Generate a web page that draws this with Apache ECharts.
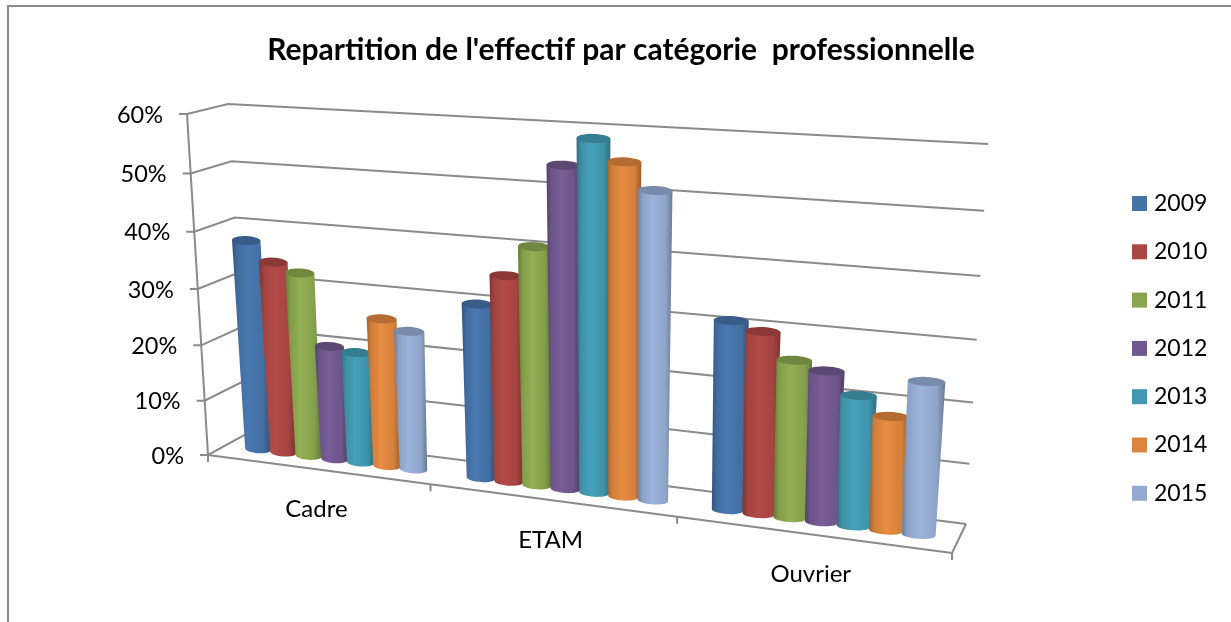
<!DOCTYPE html>
<html>
<head>
<meta charset="utf-8">
<title>Repartition de l'effectif</title>
<script src="https://cdn.jsdelivr.net/npm/echarts@6/dist/echarts.min.js"></script>
<style>
html, body { margin: 0; padding: 0; background: #fff; }
#main { width: 1231px; height: 622px; }
</style>
</head>
<body>
<div id="main"></div>
<script>
var categories = ['Cadre', 'ETAM', 'Ouvrier'];
var years = ['2009', '2010', '2011', '2012', '2013', '2014', '2015'];
var yTicks = [0, 10, 20, 30, 40, 50, 60];

var v2009 = [37.8, 30.3, 31.4];
var v2010 = [34.4, 35.5, 30.1];
var v2011 = [32.9, 40.7, 26];
var v2012 = [20.4, 54.2, 24.8];
var v2013 = [19.8, 58.7, 21.4];
var v2014 = [26.2, 55.3, 18.6];
var v2015 = [24.5, 51.1, 24.7];
var values = [v2009, v2010, v2011, v2012, v2013, v2014, v2015];

var colors = ['#4572A7', '#AA4643', '#89A54E', '#71588F', '#4198AF', '#DB843D', '#93A9CF'];
var lineColor = '#8a8a8a';
var font = 'Lato, "Noto Sans", sans-serif';

// the 3D box: corners of the front and back faces on screen
function quad(p00, p10, p11, p01) {
    var dx1 = p10[0] - p11[0], dx2 = p01[0] - p11[0], sx = p00[0] - p10[0] + p11[0] - p01[0];
    var dy1 = p10[1] - p11[1], dy2 = p01[1] - p11[1], sy = p00[1] - p10[1] + p11[1] - p01[1];
    var det = dx1 * dy2 - dx2 * dy1;
    var g = (sx * dy2 - dx2 * sy) / det;
    var h = (dx1 * sy - sx * dy1) / det;
    var a = p10[0] - p00[0] + g * p10[0], b = p01[0] - p00[0] + h * p01[0];
    var d = p10[1] - p00[1] + g * p10[1], e = p01[1] - p00[1] + h * p01[1];
    return function (u, v) {
        var w = g * u + h * v + 1;
        return [(a * u + b * v + p00[0]) / w, (d * u + e * v + p00[1]) / w];
    };
}
var front = quad([208, 455], [952, 553], [975, 156], [187, 114]);
var back = quad([248, 433], [966, 524], [988, 144], [228, 104]);

function project(u, v, d) {
    var f = front(u, v), b = back(u, v);
    return [f[0] + (b[0] - f[0]) * d, f[1] + (b[1] - f[1]) * d];
}
// axis pixel -> position inside the box
function toBox(pt, cs) {
    return [(pt[0] - cs.x) / cs.width, 1 - (pt[1] - cs.y) / cs.height];
}
function shade(hex, k) {
    var n = parseInt(hex.slice(1), 16);
    var c = [n >> 16, (n >> 8) & 255, n & 255].map(function (x) {
        return Math.min(255, Math.round(x * k));
    });
    return 'rgb(' + c.join(',') + ')';
}
function line(points, width) {
    return {
        type: 'polyline', silent: true,
        shape: { points: points },
        style: { stroke: lineColor, lineWidth: width || 2, fill: null }
    };
}

var barDepth = 0.45;
var pitch = 0.118;

function renderBar(color) {
    return function (params, api) {
        var cs = params.coordSys;
        var center = api.coord([api.value(0), 0]);
        var band = api.size([1, 0])[0];
        var off = (params.seriesIndex - 2 - 3) * pitch * band + 2;
        var topPx = api.coord([api.value(0), api.value(1)]);
        var base0 = toBox([center[0] + off, center[1]], cs);
        var top0 = toBox([topPx[0] + off, topPx[1]], cs);
        var hw = pitch * band / 2 / cs.width;

        var B = project(base0[0], base0[1], barDepth);
        var BR = project(base0[0] + hw * 1.02, base0[1], barDepth);
        var T = project(top0[0], top0[1], barDepth);
        var TR = project(top0[0] + hw * 1.1, top0[1], barDepth);
        var bx = [BR[0] - B[0], BR[1] - B[1]];
        var tx = [TR[0] - T[0], (TR[1] - T[1]) * 0.5];

        var body = [[T[0] - tx[0], T[1] - tx[1]], [T[0] + tx[0], T[1] + tx[1]]];
        var i, t;
        for (i = 0; i <= 16; i++) {
            t = Math.PI * i / 16;
            body.push([B[0] + bx[0] * Math.cos(t), B[1] + bx[1] * 0.5 * Math.cos(t) + 4 * Math.sin(t)]);
        }
        var cap = [];
        for (i = 0; i < 32; i++) {
            t = 2 * Math.PI * i / 32;
            cap.push([T[0] + tx[0] * Math.cos(t), T[1] + tx[1] * Math.cos(t) + 4.5 * Math.sin(t)]);
        }
        var grad = new echarts.graphic.LinearGradient(0, 0, 1, 0, [
            { offset: 0, color: shade(color, 0.74) },
            { offset: 0.14, color: shade(color, 0.95) },
            { offset: 0.42, color: shade(color, 1.06) },
            { offset: 0.8, color: shade(color, 0.97) },
            { offset: 1, color: shade(color, 0.72) }
        ]);
        return {
            type: 'group',
            children: [
                { type: 'polygon', shape: { points: body }, style: { fill: grad } },
                { type: 'polygon', shape: { points: cap }, style: { fill: shade(color, 0.82) } }
            ]
        };
    };
}

// walls: one polyline per y tick, with its label
function renderWall(params, api) {
    var cs = params.coordSys;
    var val = api.value(1);
    var p = toBox(api.coord([0, val]), cs);
    var a = front(0, p[1]), b = back(0, p[1]), c = back(1, p[1]);
    return {
        type: 'group',
        children: [
            line([[a[0] - 8, a[1]], a, b, c]),
            {
                type: 'text', silent: true,
                style: {
                    text: val + '%', x: a[0] - 24, y: a[1] + 1,
                    fill: '#000', font: '23.5px ' + font,
                    align: 'right', verticalAlign: 'middle'
                }
            }
        ]
    };
}

// floor: category ticks and names, front edge and right edge
function renderFloor(params, api) {
    var cs = params.coordSys;
    var band = api.size([1, 0])[0];
    var center = api.coord([api.value(0), 0]);
    var mid = toBox(center, cs);
    var uL = mid[0] - band / 2 / cs.width, uR = mid[0] + band / 2 / cs.width;
    var a = front(uL, 0), b = front(uR, 0), m = front(mid[0], 0);
    var kids = [
        line([a, b]),
        line([b, [b[0], b[1] + 7]]),
        {
            type: 'text', silent: true,
            style: {
                text: categories[api.value(0)], x: m[0], y: m[1] + 40,
                fill: '#000', font: '24px ' + font,
                align: 'center', verticalAlign: 'middle'
            }
        }
    ];
    if (api.value(0) === 0) {
        kids.push(line([a, [a[0], a[1] + 7]]));
        kids.push(line([front(0, 1), a]));
    }
    if (api.value(0) === categories.length - 1) {
        kids.push(line([b, back(1, 0)]));
    }
    return { type: 'group', children: kids };
}

var series = [
    {
        name: 'walls', type: 'custom', coordinateSystem: 'cartesian2d',
        renderItem: renderWall, silent: true, z: 1,
        data: yTicks.map(function (t) { return [0, t]; })
    },
    {
        name: 'floor', type: 'custom', coordinateSystem: 'cartesian2d',
        renderItem: renderFloor, silent: true, z: 1,
        data: categories.map(function (c, i) { return [i, 0]; })
    }
];
years.forEach(function (y, k) {
    series.push({
        name: y, type: 'custom', coordinateSystem: 'cartesian2d',
        renderItem: renderBar(colors[k]), z: 2,
        itemStyle: { color: colors[k] },
        data: values[k].map(function (v, i) { return [i, v]; })
    });
});

var myChart = echarts.init(document.getElementById('main'));
var option = {
    animation: false,
    backgroundColor: '#fff',
    title: {
        text: "Repartition de l'effectif par catégorie  professionnelle",
        left: 616, top: 30, textAlign: 'center',
        textStyle: { fontFamily: font, fontSize: 30, fontWeight: 'bold', color: '#000' }
    },
    legend: {
        data: years, orient: 'vertical', left: 1127, top: 187,
        icon: 'rect', itemWidth: 15, itemHeight: 15, itemGap: 25.3, itemStyle: {},
        textStyle: { fontFamily: font, fontSize: 23, color: '#000', padding: [0, 0, 0, 2] }
    },
    grid: { left: 100, right: 100, top: 60, bottom: 60 },
    xAxis: { type: 'category', data: categories, show: false },
    yAxis: { type: 'value', min: 0, max: 60, interval: 10, show: false },
    series: series,
    graphic: [{
        type: 'polyline', silent: true,
        shape: { points: [[8, 622], [8, 6], [1231, 6]] },
        style: { stroke: '#8a8a8a', lineWidth: 2, fill: null }
    }]
};
myChart.setOption(option);
</script>
</body>
</html>
